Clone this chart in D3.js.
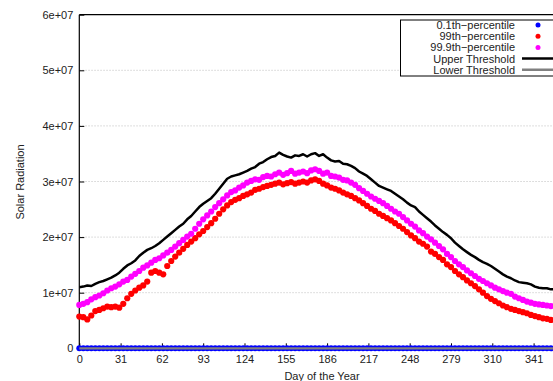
<!DOCTYPE html>
<html>
<head>
<meta charset="utf-8">
<script src="https://d3js.org/d3.v7.min.js"></script>
<style>
body{margin:0; background:#fff;}
svg{display:block; font-family:"Liberation Sans", Arial, sans-serif;}
</style>
</head>
<body>
<script>
// day of year (every 3rd day)
var days = [0,3,6,9,12,15,18,21,24,27,30,33,36,39,42,45,48,51,54,57,60,63,66,69,72,75,78,81,84,87,90,93,96,99,102,105,108,111,114,117,120,123,126,129,132,135,138,141,144,147,150,153,156,159,162,165,168,171,174,177,180,183,186,189,192,195,198,201,204,207,210,213,216,219,222,225,228,231,234,237,240,243,246,249,252,255,258,261,264,267,270,273,276,279,282,285,288,291,294,297,300,303,306,309,312,315,318,321,324,327,330,333,336,339,342,345,348,351,354,357,360,363];

// values in units of 1e6
var p01 = [0,0,0,0,0,0,0,0,0,0,0,0,0,0,0,0,0,0,0,0,0,0,0,0,0,0,0,0,0,0,0,0,0,0,0,0,0,0,0,0,0,0,0,0,0,0,0,0,0,0,0,0,0,0,0,0,0,0,0,0,0,0,0,0,0,0,0,0,0,0,0,0,0,0,0,0,0,0,0,0,0,0,0,0,0,0,0,0,0,0,0,0,0,0,0,0,0,0,0,0,0,0,0,0,0,0,0,0,0,0,0,0,0,0,0,0,0,0,0,0,0,0];
var p99 = [5.7,5.6,5.2,5.9,6.7,6.9,7.2,7.5,7.4,7.5,7.3,8.0,9.0,9.8,10.4,10.9,11.3,12.0,13.6,13.9,13.6,13.3,14.8,15.7,16.5,17.2,17.9,18.6,19.2,19.8,20.5,21.1,21.8,22.5,23.3,24.2,25.0,25.7,26.3,26.7,27.0,27.4,27.7,28.0,28.5,28.7,29.0,29.2,29.4,29.6,29.8,29.5,29.7,29.9,29.6,29.8,30.0,29.8,30.2,30.4,30.1,29.6,29.3,28.9,28.7,28.4,28.0,27.7,27.4,27.0,26.6,26.1,25.6,25.1,24.7,24.2,23.8,23.4,23.0,22.5,22.0,21.5,20.9,20.3,19.8,19.2,18.8,18.3,17.4,17.0,16.4,15.9,15.1,14.6,13.9,13.3,12.8,12.2,11.7,11.2,10.6,10.0,9.4,8.9,8.5,8.1,7.7,7.4,7.1,6.9,6.7,6.5,6.3,6.0,5.8,5.6,5.4,5.3,5.1,5.1,5.0,5.0];
var p999 = [7.8,8.0,8.3,8.8,9.2,9.5,9.9,10.4,10.8,11.1,11.5,12.0,12.3,12.9,13.4,13.9,14.5,14.9,15.4,15.9,16.2,16.7,17.2,17.7,18.3,18.9,19.5,20.1,20.6,21.5,22.4,23.2,23.9,24.6,25.4,26.1,26.8,27.5,28.1,28.4,28.9,29.3,29.8,30.1,30.4,30.3,30.8,31.0,30.9,31.3,31.6,31.2,31.5,31.9,31.4,31.6,31.8,31.5,32.0,32.2,31.9,31.4,31.6,31.0,30.9,30.7,30.3,30.2,29.8,29.4,28.8,28.3,27.8,27.3,26.9,26.5,26.1,25.6,25.1,24.6,24.2,23.6,23.0,22.4,21.9,21.2,20.7,20.1,19.6,19.0,18.4,17.8,17.0,16.4,15.7,15.1,14.6,14.0,13.5,13.0,12.5,12.1,11.7,11.3,10.9,10.6,10.3,10.0,9.8,9.3,9.0,8.7,8.4,8.2,8.0,7.9,7.8,7.7,7.6,7.6,7.5,7.4];
var upper = [11.0,11.1,11.3,11.2,11.6,11.9,12.1,12.4,12.7,13.1,13.6,14.3,14.9,15.3,15.8,16.6,17.2,17.7,18.0,18.4,18.9,19.5,20.1,20.7,21.3,21.9,22.4,23.2,23.8,24.6,25.4,26.0,26.5,27.0,27.8,28.7,29.6,30.5,30.9,31.1,31.3,31.6,31.9,32.3,32.6,33.2,33.5,34.0,34.4,34.6,35.2,34.8,34.5,34.3,34.7,34.6,34.9,34.5,34.9,35.1,34.6,34.9,34.3,33.8,33.6,33.7,33.2,33.1,32.8,32.4,31.8,31.4,31.0,30.4,29.8,29.2,28.9,28.6,28.3,27.8,27.3,26.8,26.2,25.7,25.4,24.6,24.0,23.4,22.8,22.1,21.5,20.9,20.4,19.8,19.0,18.4,17.8,17.3,16.8,16.4,15.9,15.5,15.2,14.8,14.3,13.8,13.3,12.9,12.6,12.2,11.9,11.8,11.7,11.5,11.1,10.9,10.8,10.8,10.6,10.6,10.5,10.5];
var lower = [0,0,0,0,0,0,0,0,0,0,0,0,0,0,0,0,0,0,0,0,0,0,0,0,0,0,0,0,0,0,0,0,0,0,0,0,0,0,0,0,0,0,0,0,0,0,0,0,0,0,0,0,0,0,0,0,0,0,0,0,0,0,0,0,0,0,0,0,0,0,0,0,0,0,0,0,0,0,0,0,0,0,0,0,0,0,0,0,0,0,0,0,0,0,0,0,0,0,0,0,0,0,0,0,0,0,0,0,0,0,0,0,0,0,0,0,0,0,0,0,0,0];

var xTicks = [0,31,62,93,124,155,186,217,248,279,310,341];
var yTicks = [0,10,20,30,40,50,60];
var yTickLabels = ["0","1e+07","2e+07","3e+07","4e+07","5e+07","6e+07"];
var legendLabels = ["0.1th\u2212percentile","99th\u2212percentile","99.9th\u2212percentile","Upper Threshold","Lower Threshold"];

var width = 553, height = 381;
var svg = d3.select("body").append("svg").attr("width", width).attr("height", height);

var x = d3.scaleLinear().domain([0, 366]).range([79.3, 566.9]);
var y = d3.scaleLinear().domain([0, 60]).range([348.3, 14.7]);

// grid
svg.append("g").selectAll("line")
  .data(yTicks.slice(1, -1))
  .enter().append("line")
  .attr("x1", x(0)).attr("x2", width)
  .attr("y1", function(d){ return y(d); }).attr("y2", function(d){ return y(d); })
  .attr("stroke", "#c8c8c8").attr("stroke-width", 0.8).attr("stroke-dasharray", "1.5,1.5");

// frame
svg.append("line").attr("x1", x(0)).attr("x2", width).attr("y1", y(60)).attr("y2", y(60))
  .attr("stroke", "#000").attr("stroke-width", 1.2);
svg.append("line").attr("x1", x(0)).attr("x2", width).attr("y1", y(0)).attr("y2", y(0))
  .attr("stroke", "#000").attr("stroke-width", 1.2);
svg.append("line").attr("x1", x(0)).attr("x2", x(0)).attr("y1", y(0)).attr("y2", y(60))
  .attr("stroke", "#000").attr("stroke-width", 1.2);

// y ticks
var yAxis = d3.axisLeft(y).tickValues(yTicks).tickSize(-5)
  .tickFormat(function(d, i){ return yTickLabels[i]; });
var gy = svg.append("g").attr("transform", "translate(" + x(0) + ",0)").call(yAxis);
gy.select(".domain").remove();
gy.selectAll("line").attr("stroke", "#000");
gy.selectAll("text").attr("x", -6).attr("font-size", 11).attr("fill", "#222")
  .style("font-family", "Liberation Sans, Arial, sans-serif");

// x ticks
var xAxis = d3.axisBottom(x).tickValues(xTicks).tickSize(-5).tickFormat(d3.format("d"));
var gx = svg.append("g").attr("transform", "translate(0," + y(0) + ")").call(xAxis);
gx.select(".domain").remove();
gx.selectAll("line").attr("stroke", "#000");
gx.selectAll("text").attr("y", 7).attr("font-size", 11).attr("fill", "#222")
  .style("font-family", "Liberation Sans, Arial, sans-serif");

// axis titles
svg.append("text").attr("x", 322).attr("y", 380).attr("text-anchor", "middle")
  .attr("font-size", 11).attr("fill", "#222").text("Day of the Year");
svg.append("text").attr("transform", "translate(24,182) rotate(-90)").attr("text-anchor", "middle")
  .attr("font-size", 11).attr("fill", "#222").text("Solar Radiation");

function dots(vals, color, r) {
  svg.append("g").selectAll("circle")
    .data(days)
    .enter().append("circle")
    .attr("cx", function(d){ return x(d); })
    .attr("cy", function(d, i){ return y(vals[i]); })
    .attr("r", r)
    .attr("fill", color);
}
dots(p01, "#0000ff", 3);
dots(p99, "#ff0000", 3.1);
dots(p999, "#ff00ff", 3.1);

var line = function(vals) {
  return d3.line()
    .x(function(d){ return x(d); })
    .y(function(d, i){ return y(vals[i]); })(days);
};
svg.append("path").attr("d", line(upper)).attr("fill", "none")
  .attr("stroke", "#000").attr("stroke-width", 2.5).attr("stroke-linejoin", "round");
svg.append("path").attr("d", line(lower)).attr("fill", "none")
  .attr("stroke", "#808080").attr("stroke-width", 2.2);

// legend
var lg = svg.append("g");
lg.append("rect").attr("x", 400.5).attr("y", 20).attr("width", 180).attr("height", 56)
  .attr("fill", "#fff").attr("stroke", "#000").attr("stroke-width", 1);
var rowY = [25, 36.2, 47.4, 58.6, 69.8];
lg.selectAll("text").data(legendLabels).enter().append("text")
  .attr("x", 515).attr("y", function(d, i){ return rowY[i] + 4; })
  .attr("text-anchor", "end").attr("font-size", 11).attr("fill", "#222")
  .text(function(d){ return d; });
var markColors = ["#0000ff", "#ff0000", "#ff00ff"];
lg.selectAll("circle").data(markColors).enter().append("circle")
  .attr("cx", 538).attr("cy", function(d, i){ return rowY[i]; })
  .attr("r", 2.5).attr("fill", function(d){ return d; });
lg.append("line").attr("x1", 522).attr("x2", 560).attr("y1", rowY[3]).attr("y2", rowY[3])
  .attr("stroke", "#000").attr("stroke-width", 2.5);
lg.append("line").attr("x1", 522).attr("x2", 560).attr("y1", rowY[4]).attr("y2", rowY[4])
  .attr("stroke", "#808080").attr("stroke-width", 2.5);
</script>
</body>
</html>
